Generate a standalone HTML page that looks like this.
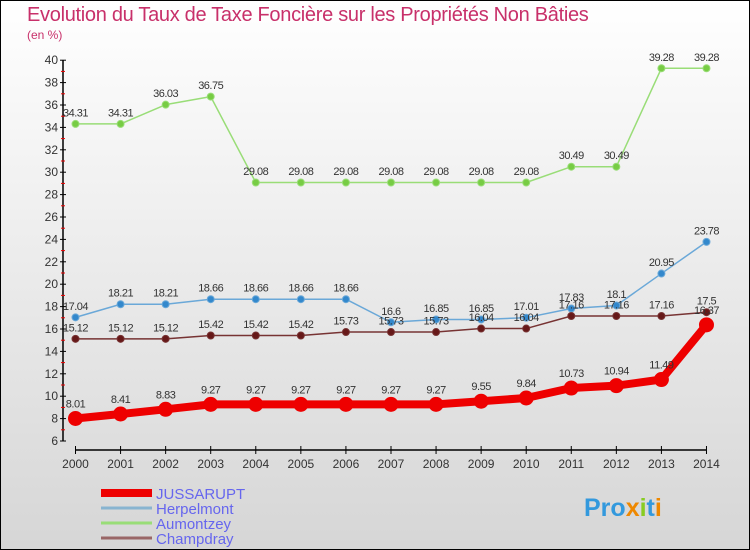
<!DOCTYPE html>
<html><head><meta charset="utf-8"><style>
body{margin:0}
#wrap{position:relative;width:748px;height:548px;border:1px solid #000;background:linear-gradient(#ffffff,#d6d6d6);overflow:hidden;font-family:"Liberation Sans",sans-serif}
.t{position:absolute;color:#c8306a;white-space:nowrap}
</style></head><body>
<div id="wrap">
<div class="t" style="left:26px;top:3px;font-size:20px;letter-spacing:-0.3px">Evolution du Taux de Taxe Foncière sur les Propriétés Non Bâties</div>
<div class="t" style="left:26px;top:27px;font-size:12px">(en %)</div>
<svg id="chart" width="748" height="548" style="position:absolute;left:0;top:0"></svg>
</div>
<script>
const years=[2000,2001,2002,2003,2004,2005,2006,2007,2008,2009,2010,2011,2012,2013,2014];
const yTicks=[6,8,10,12,14,16,18,20,22,24,26,28,30,32,34,36,38,40];
const jussarupt=[8.01,8.41,8.83,9.27,9.27,9.27,9.27,9.27,9.27,9.55,9.84,10.73,10.94,11.49,16.37];
const herpelmont=[17.04,18.21,18.21,18.66,18.66,18.66,18.66,16.6,16.85,16.85,17.01,17.83,18.1,20.95,23.78];
const aumontzey=[34.31,34.31,36.03,36.75,29.08,29.08,29.08,29.08,29.08,29.08,29.08,30.49,30.49,39.28,39.28];
const champdray=[15.12,15.12,15.12,15.42,15.42,15.42,15.73,15.73,15.73,16.04,16.04,17.16,17.16,17.16,17.5];
const NS="http://www.w3.org/2000/svg";
const svg=document.getElementById('chart');
const X=i=>74.5+i*45.07;
const Y=v=>440-(v-6)*11.2;
function el(t,a,p){const e=document.createElementNS(NS,t);for(const k in a)e.setAttribute(k,a[k]);(p||svg).appendChild(e);return e;}
let ax=el('line',{x1:62,y1:Y(40),x2:62,y2:Y(6),stroke:'#000','stroke-width':1.5});

let bx=el('line',{x1:X(0),y1:449,x2:X(14),y2:449,stroke:'#000','stroke-width':1.5});

yTicks.forEach(v=>{
  el('line',{x1:59,y1:Y(v),x2:65,y2:Y(v),stroke:'#000'});
  if(v<40){el('line',{x1:60,y1:Y(v+1),x2:64,y2:Y(v+1),stroke:'#e00'});}
  const t=el('text',{x:57,y:Y(v)+4,'text-anchor':'end','font-size':12,fill:'#333'});
  t.textContent=v;
  
  
});
years.forEach((y,i)=>{
  el('line',{x1:X(i),y1:445,x2:X(i),y2:453,stroke:'#000'});
  const t=el('text',{x:X(i),y:467,'text-anchor':'middle','font-size':12,fill:'#333'});
  t.textContent=y;
  
  
});
function series(vals,color,w,r,name,dot){
  const g=el('g',{});
  
  
  el('polyline',{points:vals.map((v,i)=>X(i)+','+Y(v)).join(' '),fill:'none',stroke:color,'stroke-width':w,'stroke-linejoin':'round'},g);
  vals.forEach((v,i)=>{
    const c=el('circle',{cx:X(i),cy:Y(v),r:r,fill:dot,stroke:color,'stroke-width':1},g);
    
    
    const t=el('text',{x:X(i),y:Y(v)-(r+4),'text-anchor':'middle','font-size':11,fill:'#333','letter-spacing':'-0.5'},g);
    t.textContent=v;
    
    
  });
}
series(aumontzey,'#99dd77',1.5,3.5,'aumontzey','#77cc44');
series(herpelmont,'#6aa8d8',1.5,3.5,'herpelmont','#3388cc');
series(champdray,'#773333',1.5,3.5,'champdray','#661818');
series(jussarupt,'#ee0000',8,7,'jussarupt','#ee0000');
const leg=[['JUSSARUPT','#ee0000',8],['Herpelmont','#88b4d0',3],['Aumontzey','#99dd77',3],['Champdray','#996666',3]];
leg.forEach((l,i)=>{
  const y=492+i*15;
  const g=el('g',{});
  
  
  el('line',{x1:100,y1:y,x2:151,y2:y,stroke:l[1],'stroke-width':l[2]},g);
  const t=el('text',{x:155,y:y+6,'font-size':15,fill:'#6666ee'},g);
  t.textContent=l[0];
});
const p=el('text',{x:583,y:515,'font-size':25,'font-weight':'bold',fill:'#3399dd'});


[['Pro','#3399dd'],['x','#ee8800'],['i','#88cc22'],['t','#3399dd'],['i','#ee8800']].forEach(s=>{const ts=el('tspan',{fill:s[1]},p);ts.textContent=s[0];});
</script>
</body></html>
